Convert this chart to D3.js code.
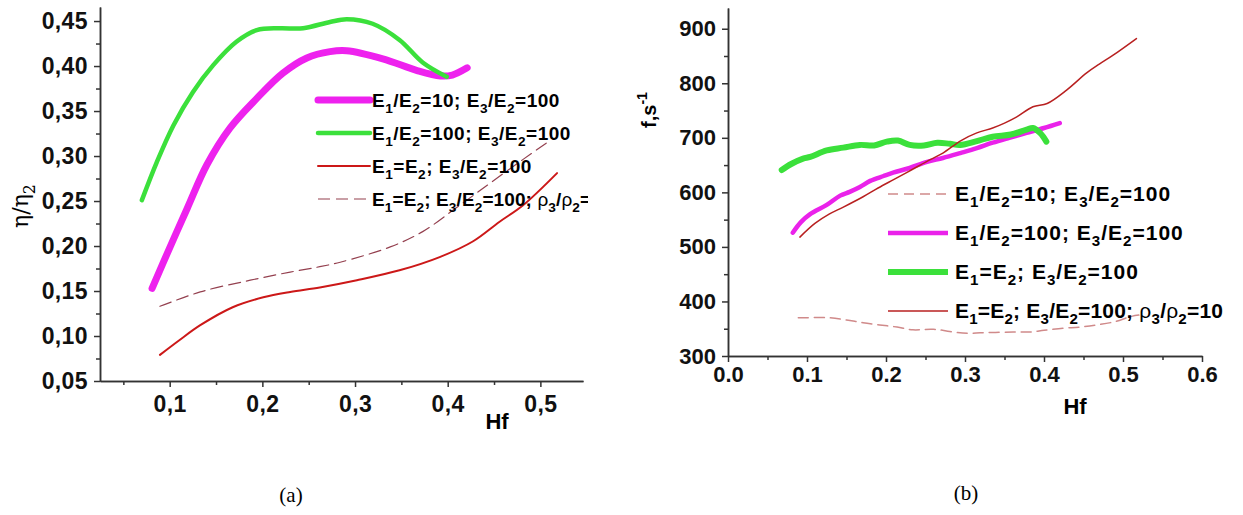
<!DOCTYPE html>
<html>
<head>
<meta charset="utf-8">
<script src="https://cdn.jsdelivr.net/npm/d3@7"></script>
<style>
  body { margin: 0; background: #fff; }
  svg { display: block; }
  .axis path, .axis line { stroke: #333; stroke-width: 1.5; }
  .axis text { font-family: "Liberation Sans", Arial, sans-serif; font-weight: bold; font-size: 22px; fill: #111; }
  .axis.a text { font-size: 23px; letter-spacing: 0.4px; }
</style>
</head>
<body>
<svg id="chart" width="1243" height="515"></svg>
<script>
// ---- panel (a): eta/eta2 vs Hf ----
const aMagentaHf  = [0.081, 0.100, 0.119, 0.140, 0.165, 0.194, 0.222, 0.248, 0.273, 0.291, 0.330, 0.367, 0.392, 0.405, 0.421];
const aMagentaVal = [0.153, 0.198, 0.242, 0.290, 0.331, 0.364, 0.392, 0.409, 0.416, 0.417, 0.408, 0.395, 0.389, 0.390, 0.398];
const aGreenHf    = [0.070, 0.086, 0.104, 0.125, 0.147, 0.172, 0.194, 0.219, 0.244, 0.273, 0.291, 0.319, 0.348, 0.373, 0.399];
const aGreenVal   = [0.251, 0.293, 0.334, 0.371, 0.401, 0.427, 0.440, 0.442, 0.442, 0.449, 0.452, 0.447, 0.429, 0.404, 0.388];
const aRedHf      = [0.0895, 0.110, 0.133, 0.168, 0.201, 0.230, 0.262, 0.302, 0.348, 0.392, 0.427, 0.456, 0.481, 0.518];
const aRedVal     = [0.079, 0.095, 0.112, 0.132, 0.143, 0.149, 0.154, 0.162, 0.173, 0.188, 0.205, 0.227, 0.245, 0.281];
const aDashHf     = [0.0895, 0.133, 0.187, 0.230, 0.262, 0.284, 0.338, 0.373, 0.410, 0.446, 0.481, 0.510];
const aDashVal    = [0.133, 0.149, 0.162, 0.171, 0.177, 0.182, 0.199, 0.216, 0.243, 0.270, 0.296, 0.317];
const aLegend = ["E_1/E_2=10; E_3/E_2=100", "E_1/E_2=100; E_3/E_2=100", "E_1=E_2; E_3/E_2=100", "E_1=E_2; E_3/E_2=100; ρ_3/ρ_2=10"];
const aXTicks = [0.1, 0.2, 0.3, 0.4, 0.5];
const aYTicks = [0.05, 0.10, 0.15, 0.20, 0.25, 0.30, 0.35, 0.40, 0.45];

// ---- panel (b): f vs Hf ----
const bDashHf     = [0.089, 0.129, 0.150, 0.171, 0.192, 0.214, 0.234, 0.260, 0.297, 0.330, 0.361, 0.382, 0.400, 0.424, 0.445, 0.467, 0.490, 0.509, 0.520];
const bDashVal    = [370, 370, 366, 361, 357, 353, 348, 349, 342, 343, 344, 344, 347, 351, 353, 357, 363, 372, 375];
const bMagentaHf  = [0.082, 0.092, 0.104, 0.125, 0.142, 0.154, 0.167, 0.180, 0.197, 0.209, 0.230, 0.252, 0.272, 0.294, 0.315, 0.335, 0.356, 0.378, 0.400, 0.420];
const bMagentaVal = [526, 545, 560, 577, 594, 601, 610, 621, 630, 636, 645, 656, 663, 672, 681, 691, 700, 709, 718, 727];
const bGreenHf    = [0.068, 0.080, 0.095, 0.104, 0.125, 0.146, 0.167, 0.185, 0.201, 0.215, 0.230, 0.248, 0.265, 0.281, 0.294, 0.315, 0.335, 0.358, 0.378, 0.386, 0.395, 0.403];
const bGreenVal   = [641, 652, 662, 665, 677, 682, 687, 686, 693, 695, 687, 686, 691, 689, 687, 694, 702, 706, 715, 718, 709, 693];
const bRedHf      = [0.091, 0.110, 0.128, 0.146, 0.171, 0.190, 0.209, 0.232, 0.256, 0.272, 0.295, 0.315, 0.335, 0.350, 0.365, 0.386, 0.404, 0.429, 0.454, 0.470, 0.488, 0.517];
const bRedVal     = [518, 543, 560, 573, 592, 608, 623, 641, 660, 672, 695, 709, 718, 727, 738, 757, 763, 788, 819, 835, 852, 882];
const bLegend = ["E_1/E_2=10; E_3/E_2=100", "E_1/E_2=100; E_3/E_2=100", "E_1=E_2; E_3/E_2=100", "E_1=E_2; E_3/E_2=100; ρ_3/ρ_2=10"];
const bXTicks = [0.0, 0.1, 0.2, 0.3, 0.4, 0.5, 0.6];
const bYTicks = [300, 400, 500, 600, 700, 800, 900];

const svg = d3.select("#chart");
const sans = "'Liberation Sans', Arial, sans-serif";

// writes "E_1/E_2" style strings as tspans with subscripts / superscripts
function rich(textSel, str, size) {
    const re = /_(\d)|\^(-?\d+)|(ρ)|([^_^ρ]+)/g;
    let m, shift = 0;
    while ((m = re.exec(str))) {
        const t = textSel.append("tspan");
        let target = 0;
        if (m[1]) { t.text(m[1]).attr("font-size", size * 0.72); target = size * 0.3; }
        else if (m[2]) { t.text(m[2]).attr("font-size", size * 0.7); target = -size * 0.45; }
        else if (m[3]) { t.text(m[3]).attr("font-weight", "normal"); }
        else t.text(m[4]);
        t.attr("dy", target - shift);
        shift = target;
    }
}

const zip = (xs, ys) => xs.map((x, i) => [x, ys[i]]);

//==== (a) ====
const xA = d3.scaleLinear().domain([0.0248, 0.546]).range([100, 583]);
const yA = d3.scaleLinear().domain([0.05, 0.4656]).range([381, 7]);
const commaFmt = f => d => d3.format(f)(d).replace(".", ",");

svg.append("g").attr("class", "axis a").attr("transform", "translate(0,381)")
   .call(d3.axisBottom(xA).tickValues(d3.range(0.05, 0.546, 0.1)).tickSize(4).tickFormat("").tickSizeOuter(0));
svg.append("g").attr("class", "axis a").attr("transform", "translate(0,381)")
   .call(d3.axisBottom(xA).tickValues(aXTicks).tickSize(6).tickPadding(9).tickFormat(commaFmt(".1f")).tickSizeOuter(0));
svg.append("g").attr("class", "axis a").attr("transform", "translate(100,0)")
   .call(d3.axisLeft(yA).tickValues(d3.range(0.075, 0.46, 0.05)).tickSize(4).tickFormat("").tickSizeOuter(0));
svg.append("g").attr("class", "axis a").attr("transform", "translate(100,0)")
   .call(d3.axisLeft(yA).tickValues(aYTicks).tickSize(6).tickPadding(6).tickFormat(commaFmt(".2f")).tickSizeOuter(0));

svg.append("text").attr("x", 497).attr("y", 429).attr("text-anchor", "middle")
   .attr("font-family", sans).attr("font-weight", "bold").attr("font-size", 22).text("Hf");
const yLabA = svg.append("text").attr("transform", "translate(28,206) rotate(-90)").attr("text-anchor", "middle")
   .attr("font-family", "'DejaVu Serif', serif").attr("font-size", 22);
rich(yLabA, "η/η_2", 22);

const lineA = d3.line().x(d => xA(d[0])).y(d => yA(d[1])).curve(d3.curveCatmullRom);
const aSeries = [
    {pts: zip(aMagentaHf, aMagentaVal), color: "#ee22ee", w: 7, dash: null},
    {pts: zip(aGreenHf, aGreenVal), color: "#3be03b", w: 4.5, dash: null},
    {pts: zip(aRedHf, aRedVal), color: "#cc1818", w: 2, dash: null},
    {pts: zip(aDashHf, aDashVal), color: "#94404f", w: 1.2, dash: "12,6"}
];
svg.append("g").selectAll("path").data(aSeries).join("path")
   .attr("d", d => lineA(d.pts)).attr("fill", "none")
   .attr("stroke", d => d.color).attr("stroke-width", d => d.w)
   .attr("stroke-dasharray", d => d.dash).attr("stroke-linecap", "round");

svg.append("clipPath").attr("id", "clipA").append("rect").attr("x", 0).attr("y", 0).attr("width", 588).attr("height", 515);
const legA = svg.append("g").attr("clip-path", "url(#clipA)");
aLegend.forEach((lab, i) => {
    const y = 100 + i * 33;
    const s = aSeries[i];
    legA.append("line").attr("x1", 318).attr("x2", 370).attr("y1", y).attr("y2", y)
        .attr("stroke", s.color).attr("stroke-width", s.w).attr("stroke-dasharray", s.dash).attr("stroke-linecap", s.dash ? "butt" : "round");
    const t = legA.append("text").attr("x", 372).attr("y", y + 7).attr("letter-spacing", i === 3 ? 0.1 : 0.5)
        .attr("font-family", sans).attr("font-weight", "bold").attr("font-size", 19);
    rich(t, lab, 19);
});

//==== (b) ====
const xB = d3.scaleLinear().domain([0, 0.6]).range([728, 1202]);
const yB = d3.scaleLinear().domain([300, 938]).range([356, 8]);

svg.append("g").attr("class", "axis").attr("transform", "translate(0,356)")
   .call(d3.axisBottom(xB).tickValues(d3.range(0.05, 0.6, 0.1)).tickSize(4).tickFormat("").tickSizeOuter(0));
svg.append("g").attr("class", "axis").attr("transform", "translate(0,356)")
   .call(d3.axisBottom(xB).tickValues(bXTicks).tickSize(6).tickPadding(4).tickFormat(d3.format(".1f")).tickSizeOuter(0));
svg.append("g").attr("class", "axis").attr("transform", "translate(728,0)")
   .call(d3.axisLeft(yB).tickValues(d3.range(350, 900, 100)).tickSize(4).tickFormat("").tickSizeOuter(0));
svg.append("g").attr("class", "axis").attr("transform", "translate(728,0)")
   .call(d3.axisLeft(yB).tickValues(bYTicks).tickSize(6).tickPadding(6).tickFormat(d3.format("d")).tickSizeOuter(0));

svg.append("text").attr("x", 1075).attr("y", 414).attr("text-anchor", "middle")
   .attr("font-family", sans).attr("font-weight", "bold").attr("font-size", 22).text("Hf");
const yLabB = svg.append("text").attr("transform", "translate(656,110) rotate(-90)").attr("text-anchor", "middle")
   .attr("font-family", sans).attr("font-weight", "bold").attr("font-size", 20);
rich(yLabB, "f,s^-1", 20);

const lineB = d3.line().x(d => xB(d[0])).y(d => yB(d[1])).curve(d3.curveCatmullRom);
const bSeries = [
    {pts: zip(bDashHf, bDashVal), color: "#d08a8a", w: 1.5, dash: "10,6"},
    {pts: zip(bMagentaHf, bMagentaVal), color: "#ea22ea", w: 4.5, dash: null},
    {pts: zip(bGreenHf, bGreenVal), color: "#3be03b", w: 6, dash: null},
    {pts: zip(bRedHf, bRedVal), color: "#b82020", w: 1.5, dash: null}
];
svg.append("g").selectAll("path").data(bSeries).join("path")
   .attr("d", d => lineB(d.pts)).attr("fill", "none")
   .attr("stroke", d => d.color).attr("stroke-width", d => d.w)
   .attr("stroke-dasharray", d => d.dash).attr("stroke-linecap", "round");

bLegend.forEach((lab, i) => {
    const y = 194 + i * 39;
    const s = bSeries[i];
    svg.append("line").attr("x1", 888).attr("x2", 948).attr("y1", y).attr("y2", y)
        .attr("stroke", s.color).attr("stroke-width", s.w).attr("stroke-dasharray", s.dash);
    const t = svg.append("text").attr("x", 955).attr("y", y + 7).attr("letter-spacing", i === 3 ? 0.2 : 1)
        .attr("font-family", sans).attr("font-weight", "bold").attr("font-size", 21);
    rich(t, lab, 21);
});

// captions
svg.append("text").attr("x", 291).attr("y", 502).attr("text-anchor", "middle")
   .attr("font-family", "'Liberation Serif', 'Times New Roman', serif").attr("font-size", 21).text("(a)");
svg.append("text").attr("x", 966).attr("y", 500).attr("text-anchor", "middle")
   .attr("font-family", "'Liberation Serif', 'Times New Roman', serif").attr("font-size", 21).text("(b)");
</script>
</body>
</html>
